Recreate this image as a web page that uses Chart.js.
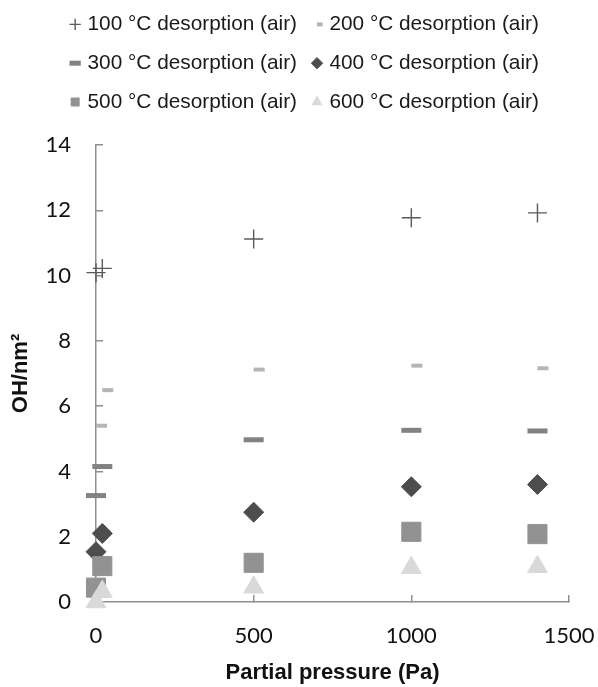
<!DOCTYPE html>
<html>
<head>
<meta charset="utf-8">
<script src="https://cdn.jsdelivr.net/npm/chart.js@4.4.1/dist/chart.umd.min.js"></script>
<style>
  html, body { margin: 0; padding: 0; background: #fff; }
  #wrap { width: 598px; height: 687px; }
</style>
</head>
<body>
<div id="wrap"><canvas id="oh-chart"></canvas></div>
<script>
// data
const seriesNames = [
  '100 °C desorption (air)',
  '200 °C desorption (air)',
  '300 °C desorption (air)',
  '400 °C desorption (air)',
  '500 °C desorption (air)',
  '600 °C desorption (air)'
];
const pressure = [0, 20, 500, 1000, 1400];
const oh100 = [10.09, 10.22, 11.12, 11.77, 11.92];
const oh200 = [5.40, 6.49, 7.12, 7.24, 7.16];
const oh300 = [3.26, 4.15, 4.97, 5.26, 5.24];
const oh400 = [1.54, 2.10, 2.75, 3.53, 3.60];
const oh500 = [0.44, 1.10, 1.20, 2.15, 2.08];
const oh600 = [0.00, 0.32, 0.45, 1.05, 1.08];
const xTicks = [0, 500, 1000, 1500];
const yTicks = [0, 2, 4, 6, 8, 10, 12, 14];

function toPoints(values) {
  return values.map((v, i) => ({ x: pressure[i], y: v }));
}

// marker styles, one per series
const styles = [
  { pointStyle: 'cross', radius: 9.5, color: '#5a5a5a', borderWidth: 1.4 },
  { pointStyle: 'dash', radius: 11, color: '#b5b5b5', borderWidth: 4 },
  { pointStyle: 'line', radius: 10, color: '#828282', borderWidth: 5 },
  { pointStyle: 'rectRot', radius: 10, color: '#4d4d4d', borderWidth: 1 },
  { pointStyle: 'rect', radius: 13.5, color: '#929292', borderWidth: 1 },
  { pointStyle: 'triangle', radius: 11.5, color: '#d9d9d9', borderWidth: 1 }
];
const allValues = [oh100, oh200, oh300, oh400, oh500, oh600];

const datasets = allValues.map((vals, i) => ({
  label: seriesNames[i],
  data: toPoints(vals),
  showLine: false,
  pointStyle: styles[i].pointStyle,
  pointRadius: styles[i].radius,
  pointHoverRadius: styles[i].radius,
  pointBorderWidth: styles[i].borderWidth,
  borderWidth: styles[i].borderWidth,
  borderColor: styles[i].color,
  backgroundColor: styles[i].color,
  pointBackgroundColor: styles[i].color,
  pointBorderColor: styles[i].color,
  order: allValues.length - i, // later series on top
  clip: false
}));

// leave a gap under the legend and nudge its rows a little to the right
const legendGap = {
  id: 'legendGap',
  beforeLayout(chart) {
    const lg = chart.legend;
    if (lg && !lg._gapPatched) {
      const fit = lg.fit;
      lg.fit = function () {
        fit.call(this);
        this.height += 22.6;
        this.lineWidths = this.lineWidths.map(w => w - 14);
      };
      lg._gapPatched = true;
    }
  }
};

const ctx = document.getElementById('oh-chart').getContext('2d');
const ohChart = new Chart(ctx, {
  type: 'scatter',
  data: { datasets },
  plugins: [legendGap],
  options: {
    responsive: true,
    maintainAspectRatio: false,
    animation: false,
    layout: { padding: { top: -4, left: 0, right: 0, bottom: 1 } },
    plugins: {
      tooltip: { enabled: false },
      legend: {
        position: 'top',
        labels: {
          usePointStyle: true,
          boxWidth: 4,
          boxHeight: 8,
          padding: 18,
          color: '#1a1a1a',
          font: { family: '"Liberation Sans", Arial, sans-serif', size: 20.8 },
          sort: (a, b) => a.datasetIndex - b.datasetIndex
        }
      }
    },
    scales: {
      x: {
        type: 'linear',
        min: 0,
        max: 1500,
        afterBuildTicks: (axis) => { axis.ticks = xTicks.map(v => ({ value: v })); },
        afterFit: (axis) => {
          axis.height = 84;
          axis.paddingLeft = 0;
          axis.paddingRight = 29;
        },
        grid: { drawOnChartArea: false, drawTicks: true, tickLength: -7, color: '#8f8f8f', lineWidth: 1.5 },
        border: { color: '#8f8f8f', width: 1.5 },
        ticks: {
          padding: 28,
          color: '#111',
          font: { family: 'Lato, "Open Sans", sans-serif', size: 22 },
          callback: (v) => String(v)
        },
        title: {
          display: true,
          text: 'Partial pressure (Pa)',
          color: '#111',
          padding: { top: 0, bottom: 0 },
          font: { family: '"Liberation Sans", Arial, sans-serif', size: 22, weight: 'bold' }
        }
      },
      y: {
        type: 'linear',
        min: 0,
        max: 14,
        afterBuildTicks: (axis) => { axis.ticks = yTicks.map(v => ({ value: v })); },
        afterFit: (axis) => {
          axis.width = 96;
          axis.paddingTop = 0;
          axis.paddingBottom = 0;
        },
        grid: { drawOnChartArea: false, drawTicks: true, tickLength: -7, color: '#8f8f8f', lineWidth: 1.5 },
        border: { color: '#8f8f8f', width: 1.5 },
        ticks: {
          padding: 32,
          color: '#111',
          font: { family: 'Lato, "Open Sans", sans-serif', size: 22 },
          callback: (v) => String(v)
        },
        title: {
          display: true,
          text: 'OH/nm²',
          color: '#111',
          padding: { top: 8, bottom: 0 },
          font: { family: '"Liberation Sans", Arial, sans-serif', size: 22, weight: 'bold' }
        }
      }
    }
  }
});
</script>
</body>
</html>
